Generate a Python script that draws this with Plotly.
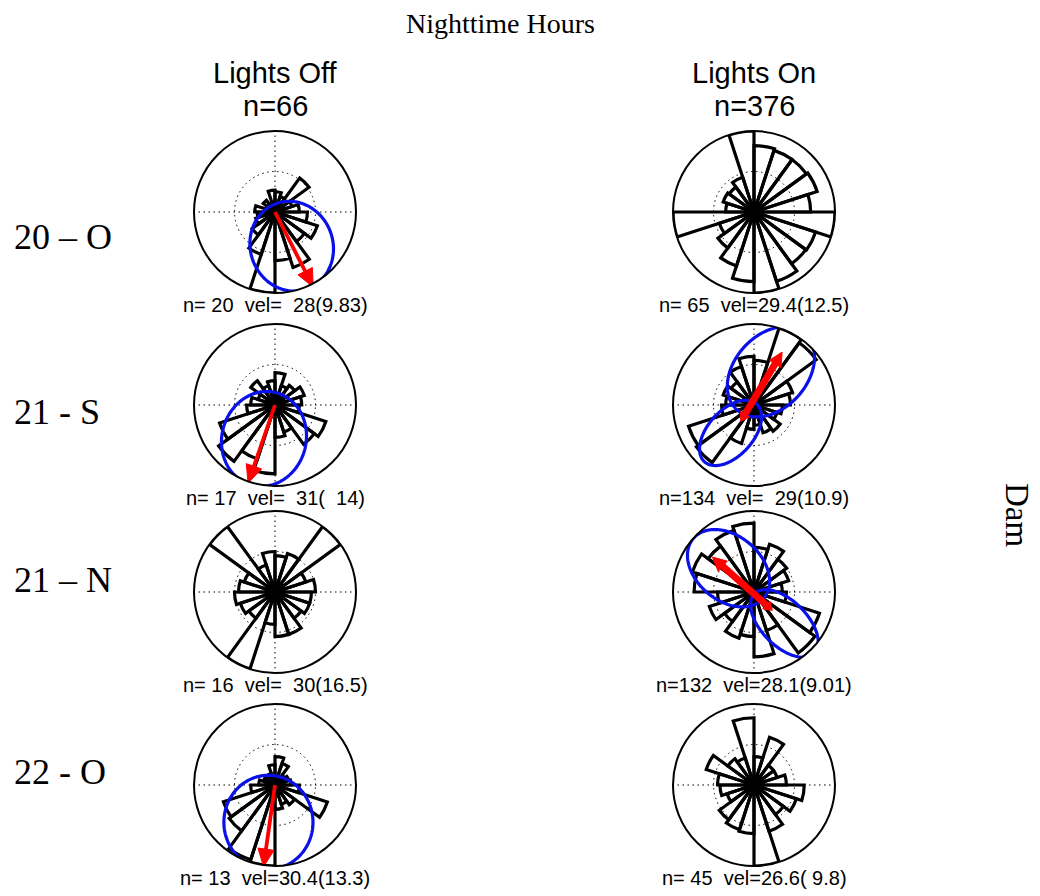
import numpy as np
import plotly.graph_objects as go

W, H = 1040, 896

# ---------------- data ----------------
bin_centers = list(range(9, 360, 18))   # 20 rose bins, compass degrees
bin_width = 18

rose_off_20O = [0.25, 0.2, 0.52, 0.22, 0.3, 0.4, 0.55, 0.45, 0.72, 0.6, 1.0, 0.55, 0.35, 0.25, 0.22, 0.25, 0.12, 0.18, 0.12, 0.27]
rose_on_20O = [0.82, 0.8, 0.8, 0.82, 0.7, 1.0, 0.8, 0.79, 0.9, 1.0, 0.86, 0.7, 0.55, 0.45, 1.0, 0.35, 0.4, 0.38, 0.45, 1.0]
rose_off_21S = [0.4, 0.25, 0.3, 0.38, 0.33, 0.3, 0.66, 0.6, 0.35, 0.4, 0.85, 0.7, 0.86, 0.72, 0.35, 0.3, 0.22, 0.37, 0.25, 0.3]
rose_on_21S = [0.55, 1.0, 0.95, 0.5, 0.45, 0.35, 0.3, 0.4, 0.36, 0.25, 0.3, 0.5, 0.88, 0.85, 0.4, 0.35, 0.4, 0.35, 0.5, 0.6]
rose_off_21N = [0.45, 0.5, 1.0, 0.4, 0.5, 0.45, 0.45, 0.4, 0.55, 0.55, 0.4, 1.0, 0.4, 0.45, 0.5, 0.45, 0.4, 1.0, 0.35, 0.5]
rose_on_21N = [0.55, 0.62, 0.5, 0.45, 0.35, 0.4, 0.85, 0.93, 0.5, 0.8, 0.55, 0.6, 0.45, 0.58, 0.45, 0.74, 0.8, 0.7, 0.8, 0.85]
rose_off_22O = [0.35, 0.28, 0.15, 0.18, 0.2, 0.3, 0.68, 0.3, 0.25, 0.3, 1.0, 0.97, 0.7, 0.67, 0.3, 0.2, 0.15, 0.15, 0.15, 0.25]
rose_on_22O = [0.35, 0.62, 0.3, 0.3, 0.4, 0.62, 0.55, 0.45, 0.6, 1.0, 0.6, 0.58, 0.53, 0.35, 0.42, 0.45, 0.62, 0.4, 0.35, 0.83]

n_tracks = [20, 65, 17, 134, 16, 132, 13, 45]
vel_mean = [28, 29.4, 31, 29, 30, 28.1, 30.4, 26.6]
vel_sd = [9.83, 12.5, 14, 10.9, 16.5, 9.01, 13.3, 9.8]

# ellipses: (centre r, centre theta, semi-major, semi-minor, orientation)
ell_off_20O = [(0.47, 154, 0.56, 0.51, 160)]
ell_off_21S = [(0.44, 198, 0.59, 0.52, 15)]
ell_on_21S = [(0.46, 27, 0.63, 0.45, 42), (0.45, 220, 0.48, 0.28, 42)]
ell_on_21N = [(0.43, 313, 0.57, 0.40, 130), (0.54, 136, 0.52, 0.28, 135)]
ell_off_22O = [(0.467, 190, 0.58, 0.55, 0)]

# mean-direction arrows: (length, theta) tips; axial ones have two tips
arr_off_20O = [(1.04, 153)]
arr_off_21S = [(1.02, 199)]
arr_on_21S = [(0.74, 28), (0.26, 219)]
arr_on_21N = [(0.67, 310), (0.32, 135)]
arr_off_22O = [(1.02, 188)]

row_labels = ["20 \u2013 O", "21 - S", "21 \u2013 N", "22 - O"]
col_titles = ["Lights Off", "Lights On"]
col_counts = ["n=66", "n=376"]

roses = [rose_off_20O, rose_on_20O, rose_off_21S, rose_on_21S,
         rose_off_21N, rose_on_21N, rose_off_22O, rose_on_22O]
ellipses = [ell_off_20O, [], ell_off_21S, ell_on_21S, [], ell_on_21N, ell_off_22O, []]
arrows = [arr_off_20O, [], arr_off_21S, arr_on_21S, [], arr_on_21N, arr_off_22O, []]

# ---------------- layout geometry ----------------
col_x = [275, 754]
row_y = [212, 405, 592, 785]
R = 81
label_y = [237, 412, 580, 772]


def to_xy(r, th):
    t = np.radians(th)
    return np.array([r * np.sin(t), r * np.cos(t)])


def to_polar(x, y):
    return np.hypot(x, y), np.degrees(np.arctan2(x, y)) % 360


def ellipse_polar(rc, thc, a, b, phi, n=240):
    t = np.linspace(0, 2 * np.pi, n)
    c = to_xy(rc, thc)
    p = np.radians(phi)
    u = np.array([np.sin(p), np.cos(p)])
    v = np.array([np.cos(p), -np.sin(p)])
    x = c[0] + a * np.cos(t) * u[0] + b * np.sin(t) * v[0]
    y = c[1] + a * np.cos(t) * u[1] + b * np.sin(t) * v[1]
    return to_polar(x, y)


def head_polar(tip, tail, h, w):
    d = tip - tail
    d = d / np.hypot(*d)
    nrm = np.array([-d[1], d[0]])
    base = tip - h * d
    pts = np.array([tip, base + w * nrm, base - w * nrm, tip])
    return to_polar(pts[:, 0], pts[:, 1])


fig = go.Figure()
layout = {}
annotations = []
serif = "Liberation Serif, Times New Roman, serif"
sans = "Liberation Sans, Arial, Helvetica, sans-serif"
RED = "#ff0000"
BLUE = "#0a10e8"

for i in range(8):
    row, col = divmod(i, 2)
    cx, cy = col_x[col], row_y[row]
    name = "polar" if i == 0 else f"polar{i+1}"
    sub = name
    layout[name] = dict(
        domain=dict(x=[(cx - R) / W, (cx + R) / W], y=[1 - (cy + R) / H, 1 - (cy - R) / H]),
        bgcolor="white",
        radialaxis=dict(range=[0, 1], tickvals=[0.5], showticklabels=False, ticks="",
                        showline=False, gridcolor="black", griddash="1.5px,3.5px", gridwidth=1.3),
        angularaxis=dict(rotation=90, direction="clockwise", tickvals=[0, 90, 180, 270],
                         showticklabels=False, ticks="", showline=True, linecolor="black",
                         linewidth=2, gridcolor="black", griddash="1.5px,3.5px", gridwidth=1.3),
    )
    fig.add_trace(go.Barpolar(
        r=roses[i], theta=bin_centers, width=[bin_width] * len(bin_centers), subplot=sub,
        marker=dict(color="rgba(0,0,0,0)", line=dict(color="black", width=3.2)),
        showlegend=False, hoverinfo="skip"))
    for e in ellipses[i]:
        rr, tt = ellipse_polar(*e)
        fig.add_trace(go.Scatterpolar(r=rr, theta=tt, mode="lines", subplot=sub,
                                      line=dict(color=BLUE, width=3.2),
                                      cliponaxis=False, showlegend=False, hoverinfo="skip"))
    arr = arrows[i]
    if len(arr) == 1:
        L, th = arr[0]
        tip = to_xy(L, th)
        tail = np.array([0.0, 0.0])
        sr, st = to_polar(*(tip * 0.85))
        fig.add_trace(go.Scatterpolar(r=[0, float(sr)], theta=[th, float(st)], mode="lines", subplot=sub,
                                      line=dict(color=RED, width=3.8), cliponaxis=False,
                                      showlegend=False, hoverinfo="skip"))
        hr, ht = head_polar(tip, tail, 0.22, 0.1)
        fig.add_trace(go.Scatterpolar(r=hr, theta=ht, mode="lines", fill="toself", subplot=sub,
                                      fillcolor=RED, line=dict(color=RED, width=1),
                                      cliponaxis=False, showlegend=False, hoverinfo="skip"))
    elif len(arr) == 2:
        (L1, t1), (L2, t2) = arr
        p1, p2 = to_xy(L1, t1), to_xy(L2, t2)
        a1 = p2 + (p1 - p2) * 0.9
        a2 = p1 + (p2 - p1) * 0.92
        lr, lt = to_polar(np.array([a1[0], a2[0]]), np.array([a1[1], a2[1]]))
        fig.add_trace(go.Scatterpolar(r=lr, theta=lt, mode="lines", subplot=sub,
                                      line=dict(color=RED, width=7), cliponaxis=False,
                                      showlegend=False, hoverinfo="skip"))
        for tip, tail, h, w in [(p1, p2, 0.17, 0.085), (p2, p1, 0.1, 0.065)]:
            hr, ht = head_polar(tip, tail, h, w)
            fig.add_trace(go.Scatterpolar(r=hr, theta=ht, mode="lines", fill="toself", subplot=sub,
                                          fillcolor=RED, line=dict(color=RED, width=1),
                                          cliponaxis=False, showlegend=False, hoverinfo="skip"))
    cap = "n=%3d  vel=%4.3g(%4.3g)" % (n_tracks[i], vel_mean[i], vel_sd[i])
    annotations.append(dict(text=cap.replace(" ", "\u00a0"), x=cx / W, y=1 - (cy + 93) / H,
                            xref="paper", yref="paper", xanchor="center", yanchor="middle",
                            showarrow=False, font=dict(family=sans, size=20, color="black")))

for c in range(2):
    annotations.append(dict(text=col_titles[c], x=col_x[c] / W, y=1 - 73 / H, xref="paper", yref="paper",
                            xanchor="center", yanchor="middle", showarrow=False,
                            font=dict(family=sans, size=29, color="black")))
    annotations.append(dict(text=col_counts[c], x=col_x[c] / W, y=1 - 106 / H, xref="paper", yref="paper",
                            xanchor="center", yanchor="middle", showarrow=False,
                            font=dict(family=sans, size=29, color="black")))

for r in range(4):
    annotations.append(dict(text=row_labels[r], x=12 / W, y=1 - label_y[r] / H, xref="paper", yref="paper",
                            xanchor="left", yanchor="middle", showarrow=False,
                            font=dict(family=serif, size=36, color="black")))

annotations.append(dict(text="Nighttime Hours", x=500 / W, y=1 - 23 / H, xref="paper", yref="paper",
                        xanchor="center", yanchor="middle", showarrow=False,
                        font=dict(family=serif, size=28, color="black")))
annotations.append(dict(text="Dam", x=1017 / W, y=1 - 515 / H, xref="paper", yref="paper",
                        xanchor="center", yanchor="middle", showarrow=False, textangle=90,
                        font=dict(family=serif, size=33, color="black")))

fig.update_layout(width=W, height=H, margin=dict(l=0, r=0, t=0, b=0),
                  paper_bgcolor="white", plot_bgcolor="white",
                  annotations=annotations, showlegend=False, **layout)

fig.write_html("out.html")
